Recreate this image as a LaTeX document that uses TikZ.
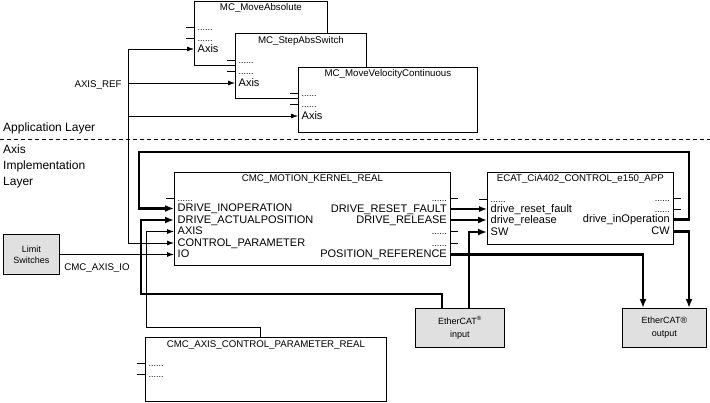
\documentclass[tikz,border=0pt]{standalone}
\usepackage{fontspec}
\setmainfont{Liberation Sans}
\usetikzlibrary{arrows.meta,positioning}

\newcommand{\pindots}{{\fontsize{9}{10}\selectfont......}}

\begin{document}
\begin{tikzpicture}[x=1pt,y=-1pt,
  fbbox/.style={draw,fill=white,line width=0.8pt,anchor=north west,inner sep=0pt},
  fbtitle/.style={font=\fontsize{9.7}{11}\selectfont,inner sep=0pt,text height=7pt,text depth=2pt},
  pinl/.style={anchor=west,font=\fontsize{11}{12}\selectfont,inner sep=3pt,inner xsep=3.5pt,
               text height=8pt,text depth=2pt},
  pinr/.style={pinl,anchor=east,inner xsep=3pt},
  hwbox/.style={draw,fill=black!12,line width=0.8pt,align=center,anchor=north west,
                font=\fontsize{9}{11}\selectfont,inner sep=0pt},
  lbl/.style={font=\fontsize{9.7}{11}\selectfont,inner sep=0pt},
  layer/.style={font=\fontsize{12}{16}\selectfont,align=left,anchor=west,inner sep=0pt},
  stub/.style={line width=0.8pt},
  arr/.style={-{Latex[length=7pt,width=5pt]},line width=0.8pt},
  medarr/.style={-{Latex[length=8pt,width=6pt]},line width=1.3pt},
  thkarr/.style={-{Latex[length=9pt,width=7pt]},line width=2.2pt},
]
\useasboundingbox (0,0) rectangle (710,402);

% Application layer blocks
\node[fbbox,minimum width=133,minimum height=64] (mcabs) at (194,1) {};
\node[fbtitle] (mcabs-t) at ([yshift=-6.5pt]mcabs.north) {MC\_MoveAbsolute};
\node[pinl] (mcabs-d1) at (194,27) {\pindots};
\node[pinl] (mcabs-d2) at (194,38) {\pindots};
\node[pinl] (mcabs-axis) at (194,49) {Axis};

\node[fbbox,minimum width=131,minimum height=65] (mcstep) at (235,33) {};
\node[fbtitle] (mcstep-t) at ([yshift=-7.5pt]mcstep.north) {MC\_StepAbsSwitch};
\node[pinl] (mcstep-d1) at (235,60) {\pindots};
\node[pinl] (mcstep-d2) at (235,71) {\pindots};
\node[pinl] (mcstep-axis) at (235,83) {Axis};

\node[fbbox,minimum width=179,minimum height=65] (mcvel) at (298,67) {};
\node[fbtitle] (mcvel-t) at ([yshift=-7pt]mcvel.north) {MC\_MoveVelocityContinuous};
\node[pinl] (mcvel-d1) at (298,93) {\pindots};
\node[pinl] (mcvel-d2) at (298,104) {\pindots};
\node[pinl] (mcvel-axis) at (298,116) {Axis};

\draw[stub] (mcabs-d1.west) -- ++(-8,0);
\draw[stub] (mcabs-d2.west) -- ++(-8,0);
\draw[stub] (mcstep-d1.west) -- ++(-8,0);
\draw[stub] (mcstep-d2.west) -- ++(-8,0);
\draw[stub] (mcvel-d1.west) -- ++(-8,0);
\draw[stub] (mcvel-d2.west) -- ++(-8,0);

% Layer separation
\node[layer] (applayer) at (3,128) {Application Layer};
\draw[line width=0.8pt,dash pattern=on 4pt off 3pt] (0,139) -- (710,139);
\node[layer] (axislayer) at (3,166) {Axis\\Implementation\\Layer};

% Motion kernel
\node[fbbox,minimum width=276,minimum height=93] (kernel) at (174,172) {};
\node[fbtitle] (kernel-t) at ([yshift=-6.5pt]kernel.north) {CMC\_MOTION\_KERNEL\_REAL};
\node[pinl] (k-d1) at (174,198) {\pindots};
\node[pinl] (k-inop) at (174,208.5) {DRIVE\_INOPERATION};
\node[pinl] (k-act) at (174,220) {DRIVE\_ACTUALPOSITION};
\node[pinl] (k-axis) at (174,231.5) {AXIS};
\node[pinl] (k-cpar) at (174,243) {CONTROL\_PARAMETER};
\node[pinl] (k-io) at (174,254.5) {IO};
\node[pinr] (k-d2) at (450,198) {\pindots};
\node[pinr] (k-rst) at (450,209) {DRIVE\_RESET\_FAULT};
\node[pinr] (k-rel) at (450,220) {DRIVE\_RELEASE};
\node[pinr] (k-d3) at (450,231.5) {\pindots};
\node[pinr] (k-d4) at (450,243) {\pindots};
\node[pinr] (k-posref) at (450,254.5) {POSITION\_REFERENCE};

\draw[stub] (k-d1.west) -- ++(-8,0);
\draw[stub] (k-d2.east) -- ++(8,0);
\draw[stub] (k-d3.east) -- ++(8,0);
\draw[stub] (k-d4.east) -- ++(8,0);

% EtherCAT control block
\node[fbbox,minimum width=186,minimum height=72] (ecat) at (487,172) {};
\node[fbtitle] (ecat-t) at ([yshift=-6.5pt]ecat.north) {ECAT\_CiA402\_CONTROL\_e150\_APP};
\node[pinl] (e-d1) at (487,199) {\pindots};
\node[pinl] (e-rst) at (487,209) {drive\_reset\_fault};
\node[pinl] (e-rel) at (487,220) {drive\_release};
\node[pinl] (e-sw) at (487,232) {SW};
\node[pinr] (e-d2) at (673,198) {\pindots};
\node[pinr] (e-d3) at (673,209) {\pindots};
\node[pinr] (e-inop) at (673,219.5) {drive\_inOperation};
\node[pinr] (e-cw) at (673,231.5) {CW};

\draw[stub] (e-d1.west) -- ++(-8,0);
\draw[stub] (e-d2.east) -- ++(8,0);
\draw[stub] (e-d3.east) -- ++(8,0);

% Control parameter block
\node[fbbox,minimum width=241,minimum height=64] (ctrlpar) at (145,337) {};
\node[fbtitle] (ctrlpar-t) at ([yshift=-7.5pt]ctrlpar.north) {CMC\_AXIS\_CONTROL\_PARAMETER\_REAL};
\node[pinl] (cp-d1) at (145,363) {\pindots};
\node[pinl] (cp-d2) at (145,374) {\pindots};
\draw[stub] (cp-d1.west) -- ++(-8,0);
\draw[stub] (cp-d2.west) -- ++(-8,0);

% Hardware
\node[hwbox,minimum width=56,minimum height=40] (limsw) at (3,234) {Limit\\Switches};
\node[hwbox,minimum width=89,minimum height=39,font=\fontsize{9}{13}\selectfont] (ethin) at (415,308)
  {EtherCAT\textsuperscript{®}\\input};
\node[hwbox,minimum width=84,minimum height=39,font=\fontsize{9}{13}\selectfont] (ethout) at (622,308)
  {EtherCAT®\\output};

% AXIS_REF bus
\coordinate (axisref) at (128,0 |- k-cpar.west);
\draw[arr] (axisref) |- (mcabs-axis.west);
\draw[arr] (axisref) |- (mcstep-axis.west);
\draw[arr] (axisref) |- (mcvel-axis.west);
\draw[arr] (axisref) -- (k-cpar.west);
\node[lbl] (axisref-l) at (98,85) {AXIS\_REF};

% IO from limit switches
\draw[arr] (limsw.east |- k-io.west) -- (k-io.west);
\node[lbl] (axisio-l) at (97,268) {CMC\_AXIS\_IO};

% Control parameter into AXIS
\draw[arr] ([xshift=115pt]ctrlpar.north west) |- (146,327) |- (k-axis.west);

% Drive feedback
\draw[thkarr] (e-inop.east) -- ++(16,0) |- (139,152) |- (k-inop.west);
\draw[thkarr] ([xshift=27pt]ethin.north west) |- (141,294) |- (k-act.west);
\draw[thkarr] ([xshift=54pt]ethin.north west) |- (e-sw.west);

% Kernel to control block
\draw[medarr] (k-rst.east) -- (e-rst.west);
\draw[thkarr] (k-rel.east) -- (e-rel.west);

% Outputs
\draw[thkarr] (k-posref.east) -| ([xshift=21pt]ethout.north west);
\draw[thkarr] (e-cw.east) -| ([xshift=67pt]ethout.north west);

\end{tikzpicture}
\end{document}
